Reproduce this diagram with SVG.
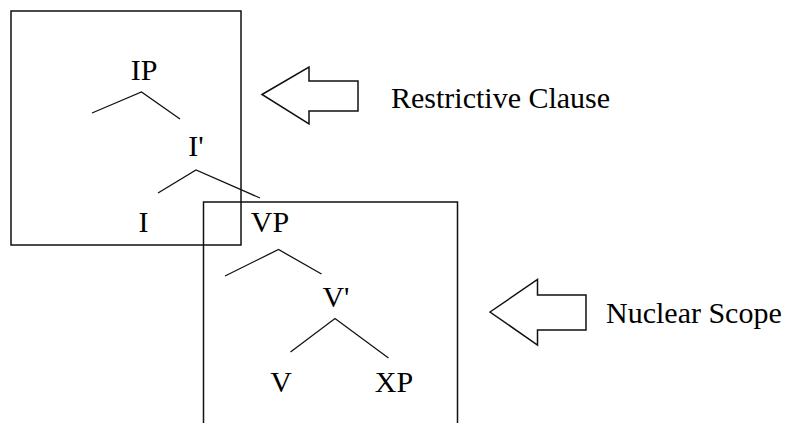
<svg xmlns="http://www.w3.org/2000/svg" width="791" height="423" viewBox="0 0 791 423">
<style>
text{font-family:"Liberation Serif","Times New Roman",serif;font-size:30px;fill:#000}
.lbl{text-anchor:middle}
.box{fill:none;stroke:#111;stroke-width:1.5}
.br{fill:none;stroke:#111;stroke-width:1.3}
.arr{fill:none;stroke:#111;stroke-width:1.5;stroke-linejoin:miter}
</style>
<rect width="791" height="423" fill="#fff"/>
<g id="box-restrictive"><rect class="box" x="11" y="11" width="230" height="234"/></g>
<g id="box-nuclear"><path class="box" d="M203.5,430 V202 H457.5 V430"/></g>
<g id="connectors">
<polyline class="br" points="92,113 141.5,92 180,119"/>
<polyline class="br" points="158,193 196,170 260,198"/>
<polyline class="br" points="225,276 278.5,249.5 321.5,274"/>
<polyline class="br" points="290.5,352 335,318.5 388.5,358"/>
</g>
<g id="node-IP"><text class="lbl" x="144" y="80">IP</text></g>
<g id="node-Ibar"><text class="lbl" x="196" y="156">I'</text></g>
<g id="node-I"><text class="lbl" x="143.5" y="232">I</text></g>
<g id="node-VP"><text class="lbl" x="270" y="232">VP</text></g>
<g id="node-Vbar"><text class="lbl" x="336" y="307">V'</text></g>
<g id="node-V"><text class="lbl" x="281" y="392">V</text></g>
<g id="node-XP"><text class="lbl" x="394" y="392">XP</text></g>
<g id="arrow-restrictive">
<polygon class="arr" points="262,94.5 309,67 309,81 358,81 358,111 309,111 309,124"/>
<text x="391" y="108">Restrictive Clause</text>
</g>
<g id="arrow-nuclear">
<polygon class="arr" points="490,312 537.5,279.5 537.5,295 586,295 586,330 537.5,330 537.5,345"/>
<text x="606" y="323">Nuclear Scope</text>
</g>
</svg>
